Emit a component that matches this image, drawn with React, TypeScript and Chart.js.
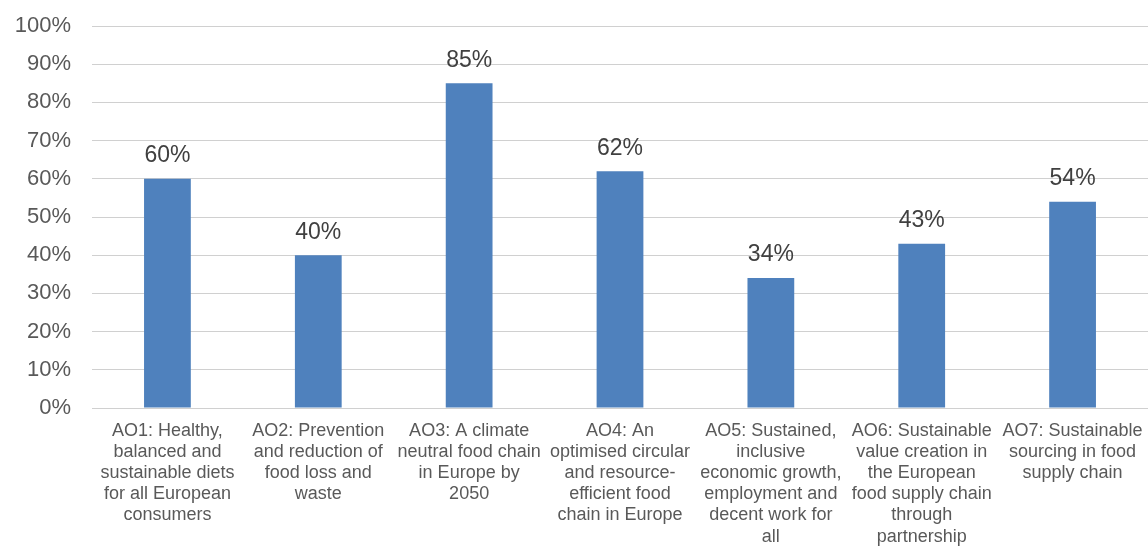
import React, { useEffect, useRef } from "react";
import { Chart, registerables } from "chart.js";

Chart.register(...registerables);

const categories: string[][] = [
  ["AO1: Healthy,", "balanced and", "sustainable diets", "for all European", "consumers"],
  ["AO2: Prevention", "and reduction of", "food loss and", "waste"],
  ["AO3: A climate", "neutral food chain", "in Europe by", "2050"],
  ["AO4: An", "optimised circular", "and resource-", "efficient food", "chain in Europe"],
  ["AO5: Sustained,", "inclusive", "economic growth,", "employment and", "decent work for", "all"],
  ["AO6: Sustainable", "value creation in", "the European", "food supply chain", "through", "partnership"],
  ["AO7: Sustainable", "sourcing in food", "supply chain"],
];

const shares: number[] = [60, 40, 85, 62, 34, 43, 54];

const FONT = "'Liberation Sans', Arial, sans-serif";

// Writes each bar's percentage just above the bar.
const valueLabels = {
  id: "valueLabels",
  afterDatasetsDraw(chart: any) {
    const { ctx } = chart;
    const meta = chart.getDatasetMeta(0);
    ctx.save();
    ctx.font = `23px ${FONT}`;
    ctx.fillStyle = "#404040";
    ctx.textAlign = "center";
    ctx.textBaseline = "middle";
    meta.data.forEach((bar: any, i: number) => {
      ctx.fillText(`${shares[i]}%`, bar.x, bar.y - 23);
    });
    ctx.restore();
  },
};

export default function App() {
  const canvasRef = useRef<HTMLCanvasElement | null>(null);

  useEffect(() => {
    if (!canvasRef.current) return;
    const chart = new Chart(canvasRef.current, {
      type: "bar",
      data: {
        labels: categories,
        datasets: [
          {
            data: shares,
            backgroundColor: "#4f81bd",
            barPercentage: 0.31,
            categoryPercentage: 1,
          },
        ],
      },
      options: {
        animation: false,
        responsive: false,
        maintainAspectRatio: false,
        layout: { padding: { top: 26, right: 0, left: 0, bottom: 0 } },
        plugins: {
          legend: { display: false },
          tooltip: { enabled: false },
        },
        scales: {
          x: {
            grid: { display: false },
            border: { display: false },
            ticks: {
              color: "#595959",
              font: { family: FONT, size: 18, lineHeight: 1.167 },
              maxRotation: 0,
              autoSkip: false,
              padding: 5,
            },
            afterFit(scale: any) {
              scale.height = 138;
            },
          },
          y: {
            min: 0,
            max: 100,
            grid: { color: "#d0d0d0", lineWidth: 1, drawTicks: false },
            border: { display: false },
            ticks: {
              stepSize: 10,
              color: "#595959",
              font: { family: FONT, size: 22 },
              padding: 21,
              callback: (v: any) => `${v}%`,
            },
            afterFit(scale: any) {
              scale.width = 92;
              scale.paddingTop = 0;
              scale.paddingBottom = 0;
            },
          },
        },
      },
      plugins: [valueLabels],
    });
    return () => chart.destroy();
  }, []);

  return (
    <div style={{ position: "fixed", left: 0, top: 0, width: 1148, height: 546, background: "#fff" }}>
      <canvas ref={canvasRef} width={1148} height={546} />
    </div>
  );
}
